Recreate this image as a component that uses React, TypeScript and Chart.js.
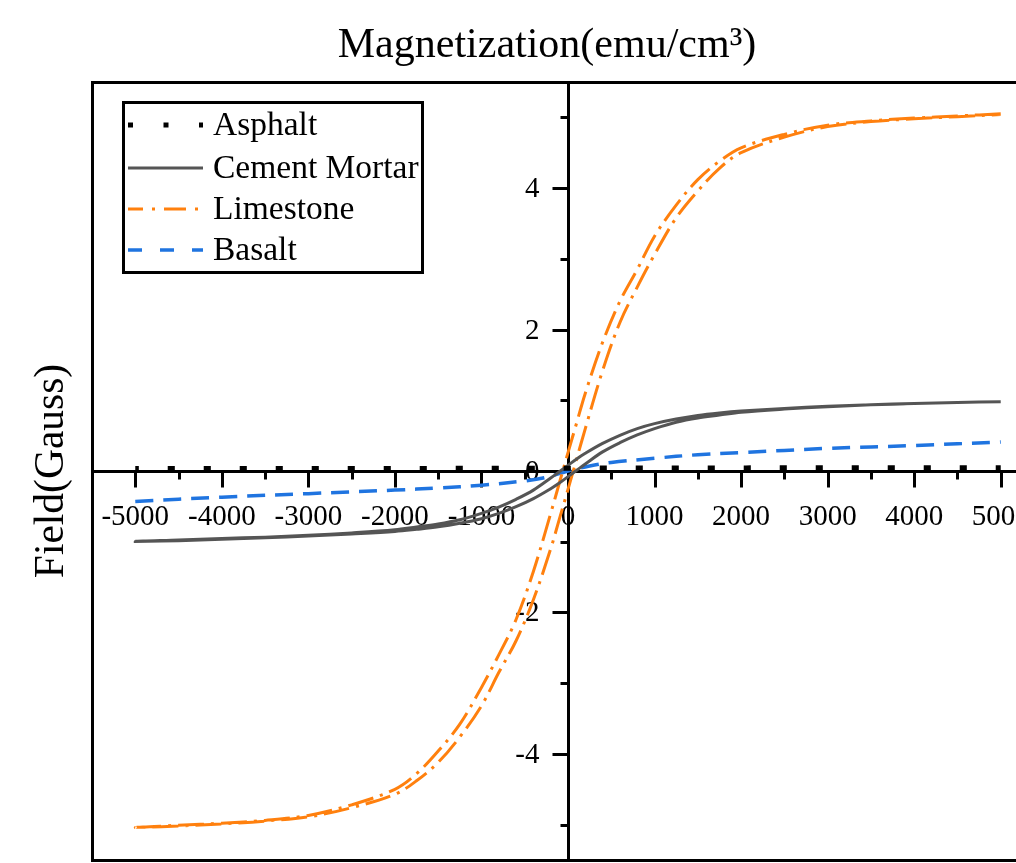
import React, { useEffect, useRef } from 'react';
import { Chart, registerables } from 'chart.js';

Chart.register(...registerables);

const FONT = "'Liberation Serif', 'Times New Roman', Times, serif";
const CANVAS_W = 1060;
const CANVAS_H = 880;

const titleText = 'Magnetization(emu/cm³)';
const yTitleText = 'Field(Gauss)';
const seriesNames = ['Asphalt', 'Cement Mortar', 'Limestone', 'Basalt'];
const seriesColors = ['#000000', '#555555', '#ff800e', '#1f74e0'];

// axis ranges and ticks
const xMin = -5500;
const xMax = 5500;
const yMin = -5.5;
const yMax = 5.5;
const xMajorTicks = [-5000, -4000, -3000, -2000, -1000, 0, 1000, 2000, 3000, 4000, 5000];
const xMinorTicks = [-4500, -3500, -2500, -1500, -500, 500, 1500, 2500, 3500, 4500];
const xTickLabels = ['-5000', '-4000', '-3000', '-2000', '-1000', '0', '1000', '2000', '3000', '4000', '5000'];
const yMajorTicks = [-4, -2, 0, 2, 4];
const yMinorTicks = [-5, -3, -1, 1, 3, 5];
const yTickLabels = ['-4', '-2', '0', '2', '4'];

// field sweeps (descending then ascending branch of the loop)
const fieldDown = [5000, 4500, 4000, 3500, 3000, 2500, 2000, 1750, 1500, 1250, 1000, 800, 600, 400, 200, 100, 0, -100, -200, -400, -600, -800, -1000, -1250, -1500, -1750, -2000, -2500, -3000, -3500, -4000, -4500, -5000];
const fieldUp = [-4500, -4000, -3500, -3000, -2500, -2000, -1750, -1500, -1250, -1000, -800, -600, -400, -200, -100, 0, 100, 200, 400, 600, 800, 1000, 1250, 1500, 1750, 2000, 2500, 3000, 3500, 4000, 4500, 5000];

const limestoneDown = [5.05, 5.02, 4.99, 4.95, 4.89, 4.76, 4.57, 4.38, 4.12, 3.76, 3.32, 2.85, 2.4, 1.82, 1.1, 0.68, 0.26, -0.17, -0.6, -1.42, -2.1, -2.6, -3.06, -3.58, -3.96, -4.28, -4.5, -4.72, -4.87, -4.94, -4.98, -5.01, -5.04];
const limestoneUp = [-5.02, -4.99, -4.95, -4.89, -4.76, -4.57, -4.38, -4.12, -3.76, -3.32, -2.85, -2.4, -1.82, -1.1, -0.68, -0.26, 0.17, 0.6, 1.42, 2.1, 2.6, 3.06, 3.58, 3.96, 4.28, 4.5, 4.72, 4.87, 4.94, 4.98, 5.01, 5.04];

const cementDown = [0.98, 0.97, 0.955, 0.935, 0.915, 0.885, 0.847, 0.82, 0.785, 0.735, 0.67, 0.6, 0.505, 0.39, 0.25, 0.17, 0.08, -0.01, -0.1, -0.27, -0.4, -0.51, -0.6, -0.69, -0.75, -0.79, -0.83, -0.875, -0.91, -0.935, -0.955, -0.975, -0.995];
const cementUp = [-0.985, -0.965, -0.945, -0.92, -0.89, -0.855, -0.825, -0.79, -0.74, -0.675, -0.6, -0.505, -0.39, -0.25, -0.17, -0.08, 0.01, 0.1, 0.27, 0.4, 0.51, 0.6, 0.69, 0.75, 0.79, 0.83, 0.875, 0.91, 0.935, 0.955, 0.97, 0.98];

const basaltField = [-5000, -4000, -3000, -2000, -1500, -1000, -500, -250, 0, 250, 500, 1000, 1500, 2000, 3000, 4000, 5000];
const basaltValues = [-0.43, -0.37, -0.32, -0.27, -0.24, -0.2, -0.14, -0.09, 0, 0.07, 0.12, 0.18, 0.23, 0.26, 0.32, 0.36, 0.41];

const asphaltField = [5000, 2500, 0, -2500, -5000, -2500, 0, 2500, 5000];
const asphaltValues = [0.045, 0.045, 0.04, 0.035, 0.035, 0.035, 0.04, 0.045, 0.045];

const toPoints = (xs: number[], ys: number[]) => xs.map((v, i) => ({ x: v, y: ys[i] }));

const decorPlugin = {
  id: 'decor',
  beforeDatasetsDraw(chart: any) {
    const { ctx, chartArea: a, scales } = chart;
    const xs = scales.x;
    const ys = scales.y;
    const x0 = Math.round(xs.getPixelForValue(0)) + 0.5;
    const y0 = Math.round(ys.getPixelForValue(0)) + 0.5;
    const seg = (x1: number, y1: number, x2: number, y2: number) => {
      ctx.beginPath();
      ctx.moveTo(x1, y1);
      ctx.lineTo(x2, y2);
      ctx.stroke();
    };
    ctx.save();
    ctx.strokeStyle = '#000';
    ctx.lineWidth = 3;
    ctx.lineCap = 'butt';
    ctx.strokeRect(Math.round(a.left) + 0.5, Math.round(a.top) + 0.5, Math.round(a.right - a.left), Math.round(a.bottom - a.top));
    seg(a.left, y0, a.right, y0);
    seg(x0, a.top, x0, a.bottom);
    xMajorTicks.forEach((v) => {
      const p = Math.round(xs.getPixelForValue(v)) + 0.5;
      seg(p, y0, p, y0 + 16);
    });
    xMinorTicks.forEach((v) => {
      const p = Math.round(xs.getPixelForValue(v)) + 0.5;
      seg(p, y0, p, y0 + 8);
    });
    yMajorTicks.forEach((v) => {
      const p = Math.round(ys.getPixelForValue(v)) + 0.5;
      seg(x0 - 16, p, x0, p);
    });
    yMinorTicks.forEach((v) => {
      const p = Math.round(ys.getPixelForValue(v)) + 0.5;
      seg(x0 - 8, p, x0, p);
    });
    ctx.fillStyle = '#000';
    ctx.font = `29px ${FONT}`;
    ctx.textBaseline = 'alphabetic';
    ctx.textAlign = 'center';
    xMajorTicks.forEach((v, i) => {
      ctx.fillText(xTickLabels[i], xs.getPixelForValue(v), y0 + 53);
    });
    ctx.textAlign = 'right';
    yMajorTicks.forEach((v, i) => {
      ctx.fillText(yTickLabels[i], x0 - 29, ys.getPixelForValue(v) + 9);
    });
    // titles
    ctx.font = `42px ${FONT}`;
    ctx.textAlign = 'center';
    ctx.fillText(titleText, 547, 57);
    ctx.translate(63, 471);
    ctx.rotate(-Math.PI / 2);
    ctx.font = `41.5px ${FONT}`;
    ctx.fillText(yTitleText, 0, 0);
    ctx.restore();
  },
  afterDatasetsDraw(chart: any) {
    const { ctx } = chart;
    ctx.save();
    ctx.fillStyle = '#fff';
    ctx.fillRect(123.5, 102.5, 299, 170);
    ctx.strokeStyle = '#000';
    ctx.lineWidth = 3;
    ctx.strokeRect(123.5, 102.5, 299, 170);
    const baselines = [135, 178, 219, 260];
    const widths = [5, 3, 3, 3.5];
    const dashes = [[5, 30.5], [], [22, 9, 3, 9], [14, 18]];
    const offsets = [0, 0, 7, 0];
    seriesNames.forEach((name, i) => {
      const ly = baselines[i] - 10;
      ctx.beginPath();
      ctx.setLineDash(dashes[i]);
      ctx.lineDashOffset = offsets[i];
      ctx.strokeStyle = seriesColors[i];
      ctx.lineWidth = widths[i];
      ctx.moveTo(128, ly);
      ctx.lineTo(203, ly);
      ctx.stroke();
      ctx.setLineDash([]);
      ctx.fillStyle = '#000';
      ctx.font = `33.5px ${FONT}`;
      ctx.textAlign = 'left';
      ctx.textBaseline = 'alphabetic';
      ctx.fillText(name, 213, baselines[i]);
    });
    ctx.restore();
  },
};

export default function App() {
  const ref = useRef<HTMLCanvasElement | null>(null);
  useEffect(() => {
    document.body.style.margin = '0';
    document.body.style.overflow = 'hidden';
    const canvas = ref.current;
    if (!canvas) return;
    const chart = new Chart(canvas, {
      type: 'line',
      data: {
        datasets: [
          {
            label: seriesNames[0],
            data: toPoints(asphaltField, asphaltValues),
            borderColor: seriesColors[0],
            borderWidth: 5,
            borderDash: [5, 31],
            pointRadius: 0,
            tension: 0,
          },
          {
            label: seriesNames[1],
            data: toPoints(fieldDown.concat(fieldUp), cementDown.concat(cementUp)),
            borderColor: seriesColors[1],
            borderWidth: 3,
            pointRadius: 0,
            tension: 0.35,
          },
          {
            label: seriesNames[2],
            data: toPoints(fieldDown.concat(fieldUp), limestoneDown.concat(limestoneUp)),
            borderColor: seriesColors[2],
            borderWidth: 3,
            borderDash: [26, 7, 3, 7],
            pointRadius: 0,
            tension: 0.35,
          },
          {
            label: seriesNames[3],
            data: toPoints(basaltField, basaltValues),
            borderColor: seriesColors[3],
            borderWidth: 3.5,
            borderDash: [18, 10],
            pointRadius: 0,
            tension: 0.35,
          },
        ],
      },
      options: {
        animation: false,
        responsive: false,
        devicePixelRatio: 1,
        layout: { padding: { left: 92, top: 82, right: CANVAS_W - 1044, bottom: CANVAS_H - 860 } },
        plugins: {
          legend: { display: false },
          title: { display: false },
          tooltip: { enabled: false },
        },
        scales: {
          x: { type: 'linear', min: xMin, max: xMax, display: false },
          y: { type: 'linear', min: yMin, max: yMax, display: false },
        },
      },
      plugins: [decorPlugin],
    });
    return () => chart.destroy();
  }, []);
  return (
    <canvas
      ref={ref}
      width={CANVAS_W}
      height={CANVAS_H}
      style={{ display: 'block', width: CANVAS_W, height: CANVAS_H }}
    />
  );
}
